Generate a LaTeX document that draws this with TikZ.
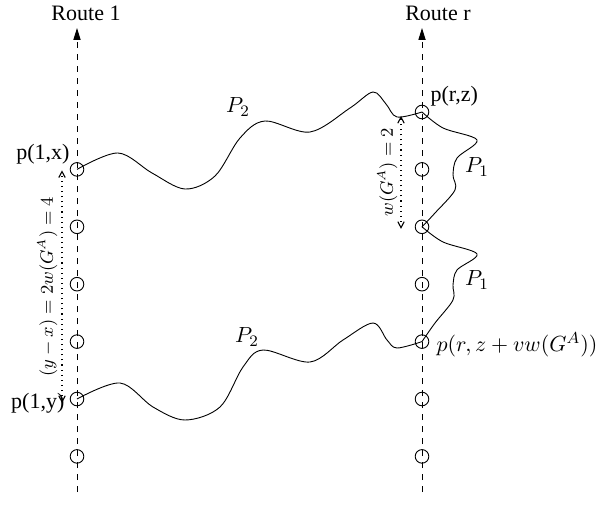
\documentclass[tikz,border=0pt]{standalone}
\usepackage{fontspec}
\setmainfont{Liberation Serif}
\usetikzlibrary{positioning, arrows.meta}
\tikzset{
  route/.style={
    dashed, line width=0.5pt, -{Triangle[length=6pt, width=3.6pt]},
  },
  station/.style={
    circle, draw, inner sep=0pt, minimum size=6.8pt, line width=0.45pt,
  },
  walk/.style={
    line width=0.45pt, smooth, tension=0.55,
  },
  span/.style={
    dotted, line width=0.55pt,
    {Straight Barb[length=3pt, width=3.2pt]}-{Straight Barb[length=3pt, width=3.2pt]},
  },
  spanlabel/.style={midway, sloped, above, font=\fontsize{9}{11}\selectfont},
  plabel/.style={inner sep=0pt, font=\fontsize{11}{13}\selectfont},
}

\begin{document}
\begin{tikzpicture}[x=0.5pt, y=-0.5pt]
  \useasboundingbox (0,0) rectangle (598,518);

  % === Routes ===
  \coordinate (bot1) at (77,492);
  \coordinate (top1) at (77,28);
  \coordinate (botR) at (422,492);
  \coordinate (topR) at (422,28);
  \draw[route] (bot1) -- (top1);
  \draw[route] (botR) -- (topR);
  \node[plabel] (rt1) at (86,13) {Route 1};
  \node[plabel] (rtR) at (438,13) {Route r};

  % === Stations ===
  \foreach \i in {1,...,6}
    \node[station] (a\i) at (77,{112+57.4*\i}) {};
  \foreach \i in {0,...,6}
    \node[station] (b\i) at (422,{112+57.4*\i}) {};

  % === Station labels ===
  \node[plabel, anchor=south east] (px) at ([xshift=-1pt]a1.north west) {p(1,x)};
  \node[plabel, left=2.5pt of a5, yshift=-2pt] (py) {p(1,y)};
  \node[plabel, anchor=south west] (pz) at ([xshift=1.5pt]b0.north east) {p(r,z)};
  \node[plabel, right=3.5pt of b4, yshift=-1.5pt] (pv) {$p(r,z+vw(G^A))$};

  % === Walks P2 ===
  \draw[walk] plot coordinates {(a1.center) (118,153) (152,173) (185,189)
    (215,176) (240,138) (265,121) (310,132) (350,108) (373,92) (386,104) (397,117)
    (b0.center)};
  \draw[walk] plot coordinates {(a5.center) (120,383) (153,407) (185,420) (220,407)
    (243,367) (263,350) (310,362) (343,340) (373,323) (387,340) (397,348)
    (b4.center)};
  \node[plabel] (p2a) at (238,107) {$P_2$};
  \node[plabel] (p2b) at (247,337) {$P_2$};

  % === Walks P1 ===
  \draw[walk] plot coordinates {(b0.center) (443,128) (477,140) (457,158) (453,175)
    (455,190) (435,213) (b2.center)};
  \draw[walk] plot coordinates {(b2.center) (443,242) (477,254) (457,270) (453,285)
    (453,300) (435,323) (b4.center)};
  \node[plabel] (p1a) at (477,167) {$P_1$};
  \node[plabel] (p1b) at (477,280) {$P_1$};

  % === Spans ===
  \draw[span] ([xshift=-7.5pt, yshift=-2pt]a5.center) -- ([xshift=-7.5pt, yshift=-0.5pt]a1.center)
    node[spanlabel, inner sep=2pt] {$(y-x)=2w(G^A)=4$};
  \draw[span] ([xshift=-10.5pt, yshift=-1pt]b2.center) -- ([xshift=-10.5pt, yshift=-2pt]b0.center)
    node[spanlabel, inner sep=1.5pt] {$w(G^A)=2$};

\end{tikzpicture}
\end{document}
